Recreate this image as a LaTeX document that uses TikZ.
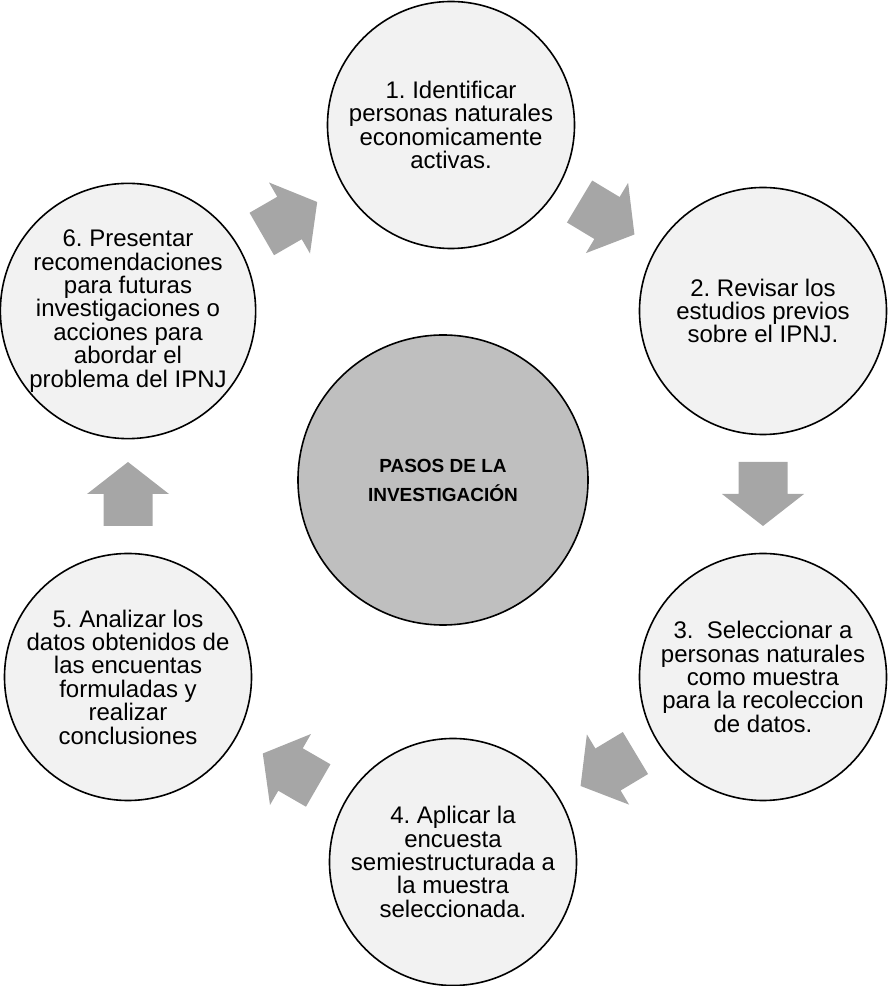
\documentclass[tikz,border=0pt]{standalone}
\usepackage{fontspec}
\setmainfont{Liberation Sans}
\usetikzlibrary{calc}
\frenchspacing

\definecolor{stepfill}{HTML}{F2F2F2}
\definecolor{hubfill}{HTML}{BFBFBF}
\definecolor{arrowfill}{HTML}{A6A6A6}

\begin{document}
\begin{tikzpicture}[
    x=1pt, y=1pt,
    stepnode/.style = {circle, draw=black, line width=1.6pt, fill=stepfill,
                       minimum size=247pt, inner sep=0pt, align=center,
                       font=\fontsize{24}{23.4}\selectfont},
    hub/.style      = {circle, draw=black, line width=1.6pt, fill=hubfill,
                       minimum size=290pt, inner sep=0pt, align=center,
                       font=\fontsize{19}{29}\selectfont\bfseries},
    blockarrow/.pic = {\fill[arrowfill] (-32,-24.5) -- (0,-24.5) -- (0,-41)
                       -- (32,0) -- (0,41) -- (0,24.5) -- (-32,24.5) -- cycle;}
]
\useasboundingbox (0,0) rectangle (887,986);

% centre
\node[hub] (hub) at (443,506) {PASOS DE LA\\INVESTIGACIÓN};

% steps round the centre
\node[stepnode] (c1) at (451,861) {1. Identificar\\personas naturales\\economicamente\\activas.};
\node[stepnode] (c2) at (763,675) {2. Revisar los\\estudios previos\\sobre el IPNJ.};
\node[stepnode] (c3) at (763,309) {3.~ Seleccionar a\\personas naturales\\como muestra\\para la recoleccion\\de datos.};
\node[stepnode] (c4) at (453,124) {4. Aplicar la\\encuesta\\semiestructurada a\\la muestra\\seleccionada.};
\node[stepnode] (c5) at (128,309) {5. Analizar los\\datos obtenidos de\\las encuentas\\formuladas y\\realizar\\conclusiones};
\node[stepnode] (c6) at (128,675) {6. Presentar\\recomendaciones\\para futuras\\investigaciones o\\acciones para\\abordar el\\problema del IPNJ};

% block arrows half way between neighbours
\foreach \a/\b/\ang in {6/1/30, 1/2/-31, 2/3/-90, 3/4/211, 4/5/150, 5/6/90}
    \pic[rotate=\ang] at ($(c\a)!0.5!(c\b)$) {blockarrow};

\end{tikzpicture}
\end{document}
